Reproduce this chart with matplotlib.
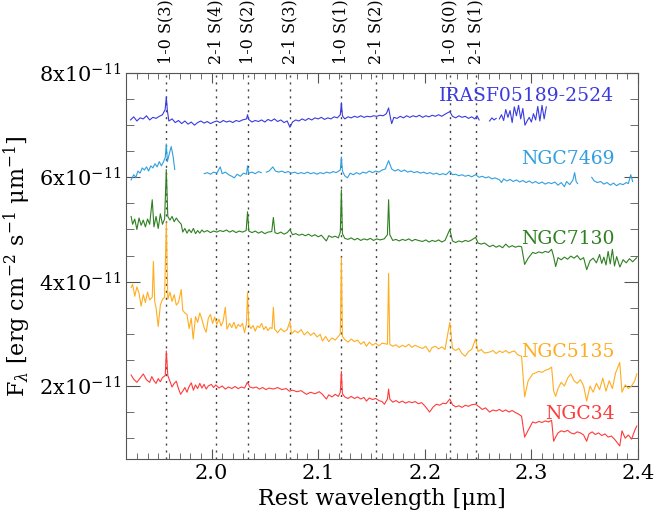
import numpy as np
import matplotlib
matplotlib.use('Agg')
from matplotlib import pyplot as plt
from matplotlib.ticker import MultipleLocator

plt.rcParams['font.family'] = ['DejaVu Serif']
plt.rcParams['mathtext.fontset'] = 'dejavuserif'

nan = np.nan

# H2 lines (rest wavelength, micron)
h2_names = ['1-0 S(3)', '2-1 S(4)', '1-0 S(2)', '2-1 S(3)',
            '1-0 S(1)', '2-1 S(2)', '1-0 S(0)', '2-1 S(1)']
h2_wave = [1.9576, 2.0041, 2.0338, 2.0735, 2.1218, 2.1542, 2.2235, 2.2477]

# spectra, flux in units of 1e-11 erg/cm2/s/um
iras_wl = [1.924, 1.927, 1.930, 1.933, 1.936, 1.939, 1.942, 1.945, 1.948, 1.951,
           1.954, 1.9565, 1.9576, 1.9586, 1.960, 1.963, 1.966, 1.969, 1.972, 1.975,
           1.978, 1.981, 1.984, 1.987, 1.990, 1.993, 1.996, 1.999, 2.002, 2.005,
           2.008, 2.011, 2.014, 2.017, 2.020, 2.023, 2.026, 2.029, 2.0328, 2.0338,
           2.0348, 2.038, 2.041, 2.044, 2.047, 2.050, 2.053, 2.056, 2.059, 2.062,
           2.065, 2.068, 2.071, 2.0735, 2.076, 2.079, 2.082, 2.085, 2.088, 2.091,
           2.094, 2.097, 2.100, 2.103, 2.106, 2.109, 2.112, 2.115, 2.118, 2.1208,
           2.1218, 2.1228, 2.125, 2.128, 2.131, 2.134, 2.137, 2.140, 2.143, 2.146,
           2.149, 2.152, 2.155, 2.158, 2.161, 2.164, 2.1661, 2.168, 2.169, 2.171,
           2.174, 2.177, 2.180, 2.183, 2.186, 2.189, 2.192, 2.195, 2.198, 2.201,
           2.204, 2.207, 2.210, 2.213, 2.216, 2.219, 2.2235, 2.226, 2.229, 2.232,
           2.235, 2.238, 2.241, 2.244, 2.247, 2.249, 2.251, 2.255, 2.2608, 2.263,
           2.265, 2.267, 2.2685, 2.270, 2.272, 2.274, 2.276, 2.278, 2.280, 2.282,
           2.284, 2.286, 2.288, 2.290, 2.292, 2.294, 2.296, 2.298, 2.300, 2.302,
           2.304, 2.306, 2.308, 2.310, 2.312, 2.314]
iras_fl = [7.10, 7.16, 7.08, 7.14, 7.12, 7.18, 7.10, 7.15, 7.13, 7.17,
           7.20, 7.30, 7.54, 7.28, 7.08, 7.12, 7.05, 7.09, 7.03, 7.08,
           7.02, 7.06, 7.00, 7.05, 7.08, 7.04, 7.07, 7.03, 7.06, 7.08,
           7.05, 7.09, 7.06, 7.08, 7.05, 7.09, 7.07, 7.10, 7.12, 7.20,
           7.11, 7.06, 7.09, 7.07, 7.10, 7.06, 7.11, 7.08, 7.12, 7.07,
           7.10, 7.05, 7.08, 6.96, 7.06, 7.10, 7.08, 7.12, 7.09, 7.13,
           7.10, 7.14, 7.12, 7.15, 7.11, 7.14, 7.12, 7.16, 7.14, 7.20,
           7.43, 7.18, 7.12, 7.16, 7.14, 7.17, 7.15, 7.18, 7.15, 7.17,
           7.16, 7.18, 7.17, 7.19, 7.18, 7.22, 7.33, 7.12, 7.03, 7.15,
           7.13, 7.17, 7.14, 7.18, 7.15, 7.18, 7.16, 7.19, 7.15, 7.18,
           7.16, 7.19, 7.17, 7.20, 7.17, 7.21, 7.26, 7.17, 7.14, 7.18,
           7.15, 7.17, 7.13, 7.16, 7.12, 7.18, 7.10, nan, 7.08, 7.14,
           7.10, 7.13, nan, 7.12, 7.20, 7.09, 7.30, 7.15, 7.28, 7.05,
           7.35, 7.18, 7.38, 7.12, 7.32, 7.00, 7.08, 7.15, 7.06, 7.22,
           7.10, 7.36, 7.08, 7.38, 7.12, 7.35]

n7469_wl = [1.9246, 1.927, 1.929, 1.931, 1.933, 1.935, 1.937, 1.939, 1.941, 1.943,
            1.945, 1.947, 1.949, 1.951, 1.953, 1.955, 1.9566, 1.9576, 1.9586, 1.960,
            1.9622, 1.964, 1.9655, 1.980, 1.9932, 1.996, 1.999, 2.002, 2.005, 2.0082,
            2.010, 2.013, 2.016, 2.019, 2.0214, 2.024, 2.027, 2.030, 2.0328, 2.0338,
            2.0348, 2.038, 2.041, 2.044, 2.0467, 2.049, 2.0514, 2.054, 2.0575, 2.060,
            2.063, 2.066, 2.069, 2.072, 2.075, 2.078, 2.081, 2.084, 2.087, 2.090,
            2.093, 2.096, 2.099, 2.102, 2.105, 2.108, 2.111, 2.114, 2.117, 2.1208,
            2.1218, 2.1228, 2.125, 2.1275, 2.130, 2.133, 2.136, 2.139, 2.142, 2.145,
            2.148, 2.151, 2.154, 2.157, 2.160, 2.163, 2.1661, 2.169, 2.172, 2.175,
            2.178, 2.181, 2.184, 2.187, 2.190, 2.193, 2.196, 2.199, 2.202, 2.205,
            2.208, 2.211, 2.214, 2.217, 2.220, 2.2235, 2.226, 2.229, 2.232, 2.235,
            2.238, 2.241, 2.244, 2.2477, 2.251, 2.254, 2.257, 2.260, 2.263, 2.266,
            2.2702, 2.272, 2.274, 2.277, 2.280, 2.283, 2.286, 2.289, 2.292, 2.295,
            2.298, 2.301, 2.304, 2.307, 2.310, 2.313, 2.316, 2.319, 2.322, 2.325,
            2.328, 2.331, 2.333, 2.336, 2.339, 2.3406, 2.342, 2.3434, 2.350, 2.3566,
            2.359, 2.362, 2.365, 2.368, 2.371, 2.374, 2.377, 2.380, 2.383, 2.386,
            2.389, 2.391, 2.3932, 2.395]
n7469_fl = [5.95, 6.05, 6.00, 6.12, 6.08, 6.18, 6.14, 6.20, 6.12, 6.22,
            6.18, 6.26, 6.20, 6.30, 6.22, 6.30, 6.38, 6.64, 6.30, 6.42,
            6.59, 6.40, 6.15, nan, 6.07, 6.09, 6.06, 6.10, 6.08, 6.20,
            6.07, 6.10, 6.05, 6.02, 5.99, 6.06, 6.02, 6.08, 6.06, 6.22,
            6.08, 6.10, 6.07, 6.11, 6.09, nan, 6.10, 6.12, 6.20, 6.12,
            6.10, 6.12, 6.09, 6.11, 6.08, 6.10, 6.07, 6.09, 6.07, 6.10,
            6.07, 6.09, 6.06, 6.09, 6.07, 6.10, 6.08, 6.11, 6.09, 6.14,
            6.39, 6.12, 6.03, 5.99, 6.08, 6.05, 6.09, 6.06, 6.10, 6.08,
            6.12, 6.09, 6.12, 6.10, 6.14, 6.16, 6.32, 6.16, 6.12, 6.15,
            6.11, 6.14, 6.10, 6.12, 6.09, 6.11, 6.08, 6.10, 6.07, 6.09,
            6.06, 6.08, 6.05, 6.07, 6.05, 6.12, 6.05, 6.06, 6.03, 6.05,
            6.02, 6.04, 6.01, 6.05, 6.00, 6.02, 5.99, 6.01, 5.97, 5.99,
            5.95, 5.90, 5.97, 5.93, 5.96, 5.92, 5.95, 5.91, 5.94, 5.90,
            5.93, 5.89, 5.92, 5.88, 5.91, 5.87, 5.90, 5.88, 5.91, 5.85,
            5.90, 5.82, 5.92, 5.86, 5.95, 6.09, 5.92, 5.88, nan, 6.00,
            5.93, 5.90, 5.92, 5.87, 5.90, 5.85, 5.89, 5.84, 5.88, 5.86,
            5.90, 5.88, 6.05, 5.92]

n7130_wl = [1.9246, 1.926, 1.928, 1.930, 1.932, 1.934, 1.936, 1.938, 1.940, 1.942,
            1.9444, 1.946, 1.948, 1.950, 1.952, 1.954, 1.956, 1.9576, 1.9590, 1.961,
            1.963, 1.965, 1.967, 1.969, 1.9716, 1.973, 1.975, 1.977, 1.979, 1.981,
            1.983, 1.985, 1.987, 1.989, 1.991, 1.993, 1.996, 1.999, 2.002, 2.005,
            2.008, 2.011, 2.014, 2.017, 2.020, 2.023, 2.026, 2.029, 2.0325, 2.0338,
            2.0350, 2.038, 2.041, 2.044, 2.047, 2.050, 2.053, 2.0565, 2.0580, 2.0595,
            2.062, 2.065, 2.068, 2.071, 2.0735, 2.076, 2.079, 2.082, 2.085, 2.088,
            2.091, 2.094, 2.097, 2.100, 2.103, 2.1077, 2.110, 2.113, 2.116, 2.119,
            2.1208, 2.1218, 2.1228, 2.125, 2.128, 2.131, 2.134, 2.137, 2.140, 2.143,
            2.146, 2.149, 2.152, 2.155, 2.158, 2.162, 2.1650, 2.1661, 2.1672, 2.170,
            2.173, 2.176, 2.179, 2.182, 2.185, 2.188, 2.191, 2.194, 2.1979, 2.201,
            2.204, 2.207, 2.210, 2.213, 2.216, 2.219, 2.2235, 2.226, 2.229, 2.232,
            2.235, 2.238, 2.241, 2.244, 2.2477, 2.250, 2.253, 2.256, 2.2608, 2.264,
            2.267, 2.270, 2.273, 2.276, 2.279, 2.282, 2.285, 2.288, 2.2908, 2.2937,
            2.297, 2.3012, 2.304, 2.307, 2.310, 2.313, 2.316, 2.319, 2.3209, 2.3228,
            2.325, 2.328, 2.331, 2.334, 2.337, 2.340, 2.343, 2.346, 2.349, 2.3519,
            2.355, 2.358, 2.361, 2.364, 2.366, 2.368, 2.370, 2.372, 2.374, 2.376,
            2.378, 2.380, 2.383, 2.386, 2.389, 2.392, 2.395, 2.3988]
n7130_fl = [5.25, 5.10, 5.20, 5.00, 5.22, 5.08, 5.18, 5.05, 5.20, 5.10,
            5.57, 5.05, 5.25, 5.02, 5.30, 5.10, 5.20, 6.15, 5.25, 5.18,
            5.25, 5.15, 5.22, 5.16, 5.10, 4.95, 5.02, 4.93, 5.00, 4.94,
            5.02, 4.92, 4.98, 4.93, 4.99, 4.95, 4.98, 4.94, 4.97, 4.95,
            4.98, 4.96, 4.99, 4.95, 4.98, 4.94, 4.97, 4.95, 4.98, 5.34,
            4.97, 4.94, 4.97, 4.93, 4.96, 4.92, 4.95, 4.96, 5.23, 4.94,
            4.92, 4.95, 4.91, 4.94, 5.00, 4.90, 4.92, 4.89, 4.91, 4.88,
            4.91, 4.87, 4.90, 4.86, 4.89, 4.78, 4.88, 4.85, 4.87, 4.84,
            4.95, 5.76, 4.92, 4.83, 4.81, 4.84, 4.80, 4.83, 4.79, 4.82,
            4.80, 4.83, 4.79, 4.82, 4.80, 4.82, 4.90, 5.57, 4.90, 4.79,
            4.81, 4.78, 4.81, 4.79, 4.82, 4.78, 4.81, 4.79, 4.77, 4.80,
            4.76, 4.79, 4.77, 4.80, 4.76, 4.79, 5.00, 4.78, 4.75, 4.78,
            4.76, 4.79, 4.77, 4.80, 4.85, 4.74, 4.72, 4.74, 4.67, 4.70,
            4.66, 4.69, 4.65, 4.72, 4.66, 4.69, 4.66, 4.68, 4.67, 4.33,
            4.45, 4.56, 4.54, 4.57, 4.55, 4.58, 4.56, 4.62, 4.48, 4.29,
            4.46, 4.42, 4.47, 4.43, 4.49, 4.45, 4.50, 4.42, 4.46, 4.23,
            4.40, 4.45, 4.36, 4.52, 4.35, 4.47, 4.32, 4.58, 4.34, 4.62,
            4.30, 4.48, 4.28, 4.42, 4.36, 4.44, 4.38, 4.46]

n5135_wl = [1.9246, 1.926, 1.928, 1.930, 1.932, 1.934, 1.936, 1.938, 1.940, 1.942,
            1.9444, 1.9455, 1.9467, 1.948, 1.950, 1.952, 1.954, 1.956, 1.9576, 1.9590,
            1.961, 1.963, 1.965, 1.967, 1.969, 1.9716, 1.973, 1.975, 1.977, 1.979,
            1.981, 1.9828, 1.985, 1.987, 1.989, 1.991, 1.993, 1.995, 1.997, 1.999,
            2.001, 2.003, 2.005, 2.007, 2.009, 2.011, 2.0129, 2.0145, 2.017, 2.019,
            2.021, 2.023, 2.025, 2.027, 2.029, 2.031, 2.0328, 2.0338, 2.0350, 2.037,
            2.039, 2.041, 2.043, 2.045, 2.047, 2.049, 2.051, 2.053, 2.055, 2.0568,
            2.0580, 2.0592, 2.062, 2.065, 2.068, 2.071, 2.0735, 2.075, 2.078, 2.081,
            2.084, 2.087, 2.090, 2.093, 2.096, 2.099, 2.102, 2.1040, 2.107, 2.110,
            2.113, 2.116, 2.119, 2.1208, 2.1218, 2.1228, 2.125, 2.128, 2.131, 2.134,
            2.137, 2.140, 2.143, 2.1453, 2.148, 2.151, 2.154, 2.157, 2.160, 2.1650,
            2.1661, 2.1672, 2.170, 2.173, 2.176, 2.179, 2.182, 2.185, 2.188, 2.191,
            2.194, 2.1979, 2.201, 2.2045, 2.207, 2.210, 2.213, 2.216, 2.219, 2.2235,
            2.226, 2.229, 2.232, 2.235, 2.238, 2.241, 2.244, 2.2477, 2.250, 2.253,
            2.256, 2.2608, 2.264, 2.267, 2.270, 2.273, 2.276, 2.279, 2.282, 2.2843,
            2.287, 2.2908, 2.2937, 2.297, 2.3012, 2.304, 2.307, 2.310, 2.313, 2.316,
            2.3190, 2.3209, 2.3228, 2.325, 2.328, 2.331, 2.334, 2.337, 2.340, 2.343,
            2.346, 2.349, 2.3519, 2.355, 2.358, 2.361, 2.364, 2.367, 2.370, 2.373,
            2.376, 2.379, 2.3829, 2.385, 2.388, 2.391, 2.394, 2.397, 2.3988]
n5135_fl = [3.89, 3.95, 3.72, 3.90, 3.78, 3.53, 3.75, 3.60, 3.80, 3.65,
            3.70, 4.39, 3.62, 3.50, 3.14, 3.55, 3.66, 3.70, 5.13, 3.66,
            3.80, 3.62, 3.75, 3.55, 3.60, 3.85, 3.45, 3.40, 3.37, 3.10,
            3.30, 2.90, 3.33, 3.22, 3.40, 3.28, 3.12, 3.03, 3.30, 3.37,
            3.20, 3.32, 3.18, 3.28, 3.15, 3.25, 3.51, 3.09, 3.20, 3.12,
            3.22, 3.10, 3.18, 3.14, 3.20, 3.02, 3.20, 3.79, 3.18, 3.10,
            3.16, 3.05, 3.15, 3.12, 3.20, 3.08, 3.14, 3.06, 3.12, 3.10,
            3.51, 3.09, 3.02, 3.10, 3.04, 3.08, 3.24, 3.00, 3.06, 3.02,
            3.08, 2.98, 3.04, 2.97, 3.02, 2.94, 2.99, 2.86, 2.95, 2.85,
            2.92, 2.88, 2.95, 3.00, 4.46, 2.95, 2.89, 2.84, 2.90, 2.85,
            2.88, 2.80, 2.85, 2.76, 2.84, 2.78, 2.82, 2.77, 2.82, 2.80,
            4.16, 2.80, 2.76, 2.79, 2.74, 2.78, 2.75, 2.80, 2.74, 2.78,
            2.75, 2.72, 2.76, 2.65, 2.74, 2.76, 2.71, 2.75, 2.70, 3.22,
            2.72, 2.68, 2.72, 2.62, 2.57, 2.66, 2.70, 2.90, 2.66, 2.70,
            2.63, 2.65, 2.68, 2.62, 2.67, 2.64, 2.68, 2.63, 2.66, 2.67,
            2.60, 2.57, 1.79, 2.10, 2.23, 2.25, 2.28, 2.26, 2.30, 2.32,
            2.36, 1.90, 1.80, 1.95, 2.07, 2.00, 2.15, 2.23, 2.10, 2.05,
            2.12, 2.00, 1.71, 2.00, 1.88, 2.05, 1.93, 2.15, 1.90, 2.10,
            1.95, 2.25, 2.45, 1.88, 2.02, 1.95, 2.00, 2.10, 2.23]

n34_wl = [1.9246, 1.927, 1.930, 1.933, 1.936, 1.939, 1.942, 1.944, 1.946, 1.948,
          1.950, 1.952, 1.954, 1.9566, 1.9576, 1.9590, 1.961, 1.963, 1.965, 1.967,
          1.969, 1.971, 1.973, 1.975, 1.977, 1.979, 1.981, 1.983, 1.985, 1.987,
          1.989, 1.991, 1.993, 1.995, 1.997, 1.9998, 2.002, 2.004, 2.007, 2.010,
          2.013, 2.016, 2.019, 2.022, 2.025, 2.028, 2.031, 2.0336, 2.036, 2.039,
          2.042, 2.045, 2.048, 2.051, 2.054, 2.058, 2.062, 2.066, 2.070, 2.0730,
          2.076, 2.080, 2.084, 2.0890, 2.093, 2.097, 2.101, 2.104, 2.1077, 2.110,
          2.113, 2.116, 2.119, 2.1208, 2.1218, 2.1228, 2.125, 2.128, 2.131, 2.134,
          2.137, 2.140, 2.143, 2.1453, 2.148, 2.151, 2.154, 2.157, 2.160, 2.1622,
          2.1650, 2.1661, 2.1672, 2.170, 2.173, 2.176, 2.179, 2.182, 2.185, 2.188,
          2.191, 2.194, 2.197, 2.200, 2.2045, 2.208, 2.211, 2.214, 2.217, 2.220,
          2.2235, 2.226, 2.229, 2.232, 2.235, 2.238, 2.241, 2.244, 2.2477, 2.251,
          2.254, 2.257, 2.2608, 2.264, 2.267, 2.270, 2.273, 2.276, 2.279, 2.282,
          2.285, 2.288, 2.2908, 2.2937, 2.297, 2.3012, 2.304, 2.307, 2.310, 2.313,
          2.316, 2.3190, 2.3209, 2.3228, 2.325, 2.328, 2.331, 2.334, 2.337, 2.340,
          2.343, 2.346, 2.349, 2.3519, 2.354, 2.357, 2.360, 2.363, 2.366, 2.369,
          2.372, 2.375, 2.378, 2.3829, 2.385, 2.388, 2.391, 2.394, 2.397, 2.3988]
n34_fl = [2.21, 2.13, 2.07, 2.15, 2.23, 2.12, 2.07, 2.18, 2.10, 2.05,
          2.14, 2.08, 2.16, 2.20, 2.67, 2.20, 2.09, 1.98, 2.05, 2.09,
          1.95, 1.84, 1.90, 1.97, 1.88, 1.99, 2.06, 1.92, 2.02, 1.95,
          2.05, 1.96, 2.03, 1.94, 2.00, 2.03, 1.97, 2.02, 1.96, 2.00,
          1.94, 1.98, 1.95, 1.99, 1.95, 1.98, 1.96, 2.07, 1.98, 1.96,
          1.98, 1.94, 1.97, 1.93, 1.96, 1.94, 1.97, 1.93, 1.95, 1.90,
          1.92, 1.89, 1.91, 1.84, 1.88, 1.85, 1.89, 1.84, 1.75, 1.83,
          1.79, 1.84, 1.80, 1.88, 2.28, 1.85, 1.79, 1.76, 1.80, 1.76,
          1.79, 1.75, 1.78, 1.71, 1.77, 1.74, 1.76, 1.72, 1.70, 1.65,
          1.75, 1.94, 1.75, 1.69, 1.72, 1.68, 1.71, 1.67, 1.70, 1.68,
          1.70, 1.66, 1.68, 1.62, 1.50, 1.60, 1.65, 1.63, 1.67, 1.66,
          1.75, 1.64, 1.60, 1.62, 1.59, 1.63, 1.61, 1.64, 1.65, 1.60,
          1.55, 1.58, 1.50, 1.54, 1.52, 1.55, 1.51, 1.54, 1.50, 1.53,
          1.49, 1.46, 1.42, 1.02, 1.15, 1.31, 1.29, 1.32, 1.30, 1.33,
          1.31, 1.34, 0.94, 1.02, 1.10, 1.14, 1.12, 1.15, 1.10, 1.08,
          1.12, 1.10, 1.06, 0.94, 1.08, 1.12, 1.07, 1.10, 1.05, 1.08,
          1.02, 1.04, 0.98, 0.85, 1.14, 1.00, 1.06, 0.98, 1.15, 1.23]

names = ['IRASF05189-2524', 'NGC7469', 'NGC7130', 'NGC5135', 'NGC34']
label_y = [7.55, 6.35, 4.81, 2.65, 1.47]
colors = ['#3a3ae0', '#2f9fdf', '#2e8020', '#ffad1f', '#ff3a3a']
spectra = [(iras_wl, iras_fl), (n7469_wl, n7469_fl), (n7130_wl, n7130_fl),
           (n5135_wl, n5135_fl), (n34_wl, n34_fl)]

fig = plt.figure(figsize=(6.54, 5.23), dpi=100)
ax = fig.add_axes([0.193, 0.1224, 0.7825, 0.738])

for wl in h2_wave:
    ax.axvline(wl, color='#444444', ls=(0, (1.5, 3.5)), lw=1.0, zorder=1)

for (wl, fl), c in zip(spectra, colors):
    ax.plot(wl, np.array(fl) * 1e-11, color=c, lw=0.8, zorder=2)

for name, yy, c in zip(names, label_y, colors):
    ax.text(2.378, yy * 1e-11, name, color=c, fontsize=13.5, ha='right', va='center')

for name, wl in zip(h2_names, h2_wave):
    ax.text(wl, 8.17e-11, name, rotation=90, ha='center', va='bottom', fontsize=11.5)

ax.set_xlim(1.92, 2.40)
ax.set_ylim(0.6e-11, 8e-11)
ax.xaxis.set_major_locator(MultipleLocator(0.1))
ax.xaxis.set_minor_locator(MultipleLocator(0.01))
ax.set_yticks([2e-11, 4e-11, 6e-11, 8e-11])
ax.set_yticklabels([r'2x10$^{-11}$', r'4x10$^{-11}$', r'6x10$^{-11}$', r'8x10$^{-11}$'])
ax.yaxis.set_minor_locator(MultipleLocator(0.5e-11))
ax.tick_params(which='both', direction='in', top=True, right=True, colors='#555555',
               labelcolor='black', labelsize=15)
ax.tick_params(axis='x', which='major', length=7)
ax.tick_params(axis='x', which='minor', length=4)
ax.tick_params(axis='y', which='major', length=10)
ax.tick_params(axis='y', which='minor', length=6)
for s in ax.spines.values():
    s.set_color('#555555')

ax.set_xlabel('Rest wavelength [μm]', fontsize=16, labelpad=4)
ax.set_ylabel('F$_\\lambda$ [erg cm$^{-2}$ s$^{-1}$ μm$^{-1}$]', fontsize=16, labelpad=4)

fig.savefig('out.png', dpi=100)
